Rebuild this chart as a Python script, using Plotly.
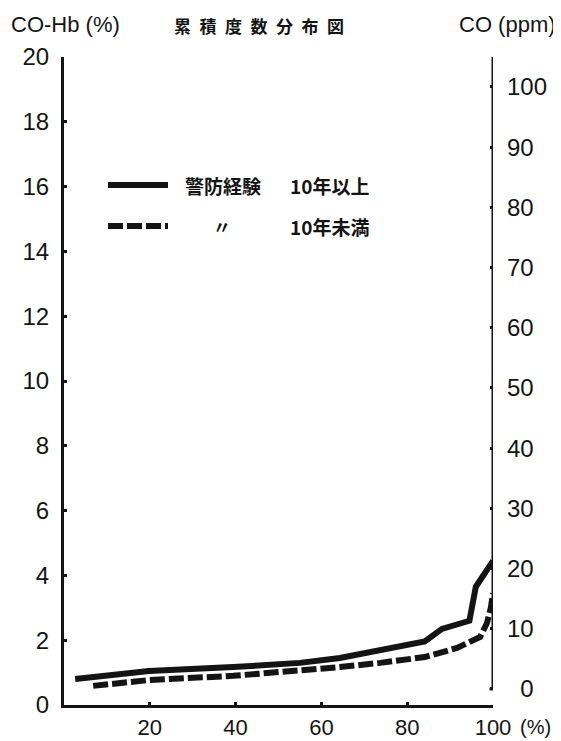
import plotly.graph_objects as go

# ---- data ----
cum_pct_10plus = [2.6, 19.8, 39.4, 55.0, 64.3, 73.7, 84.1, 88.1, 94.5, 96.0, 100.0]
cohb_10plus    = [0.80, 1.05, 1.17, 1.30, 1.45, 1.68, 1.96, 2.35, 2.60, 3.65, 4.45]

cum_pct_under10 = [6.8, 19.8, 39.4, 55.0, 64.3, 73.7, 84.1, 91.6, 97.0, 98.6, 99.5, 100.0]
cohb_under10    = [0.59, 0.77, 0.90, 1.05, 1.17, 1.30, 1.48, 1.76, 2.10, 2.53, 3.00, 3.45]

x_tickvals = [20, 40, 60, 80, 100]
x_ticktext = ["20", "40", "60", "80", "100"]
y_tickvals = [0, 2, 4, 6, 8, 10, 12, 14, 16, 18, 20]
y2_tickvals = [0, 10, 20, 30, 40, 50, 60, 70, 80, 90, 100]
y2_ticktext = ["\u20070", "10", "20", "30", "40", "50", "60", "70", "80", "90", "100"]

series_names = ["警防経験", "〃"]
series_groups = ["10年以上", "10年未満"]
title_text = "累積度数分布図"
left_title = "CO-Hb (%)"
right_title = "CO (ppm)"
x_unit = "(%)"

# ---- geometry (screen pixels; the page body has an 8px margin) ----
OFF = 8
SW, SH = 561, 741
PL, PR, PT, PB = 64, 493, 57, 705          # plot area on screen
W, H = SW - OFF, SH - OFF
ML, MR, MT, MB = PL - OFF, SW - PR, PT - OFF, SH - PB


def px(sx):
    return (sx - PL) / (PR - PL)


def py(sy):
    return (PB - sy) / (PB - PT)


INK = "#141414"
NUM_FONT = "Liberation Sans, Arial, sans-serif"
JP_FONT = "Noto Sans CJK JP, Noto Sans CJK SC, sans-serif"

fig = go.Figure()
fig.add_trace(go.Scatter(x=cum_pct_10plus, y=cohb_10plus, mode="lines",
                         line=dict(color=INK, width=6), showlegend=False,
                         hoverinfo="skip"))
fig.add_trace(go.Scatter(x=cum_pct_under10, y=cohb_under10, mode="lines",
                         line=dict(color=INK, width=6, dash="15px,4px"),
                         showlegend=False, hoverinfo="skip"))
# invisible trace to activate the right axis
fig.add_trace(go.Scatter(x=[None], y=[None], yaxis="y2", showlegend=False))

axis_common = dict(showgrid=False, zeroline=False, ticks="inside", ticklen=3,
                   tickwidth=3, tickcolor=INK, automargin=False)

fig.update_layout(
    template="none",
    width=W, height=H, autosize=False,
    margin=dict(l=ML, r=MR, t=MT, b=MB, pad=0),
    paper_bgcolor="white", plot_bgcolor="white",
    xaxis=dict(range=[0, 100], tickvals=x_tickvals, ticktext=x_ticktext,
               showline=True, linewidth=3, linecolor=INK,
               tickfont=dict(family=NUM_FONT, size=22, color=INK),
               ticklabelstandoff=1, **axis_common),
    yaxis=dict(range=[0, 20], tickvals=y_tickvals,
               showline=True, linewidth=3, linecolor=INK,
               tickfont=dict(family=NUM_FONT, size=24, color=INK),
               ticklabelstandoff=7, **axis_common),
    yaxis2=dict(range=[-2.66, 104.98], tickvals=y2_tickvals, ticktext=y2_ticktext,
                overlaying="y", side="right", showline=False,
                tickfont=dict(family=NUM_FONT, size=24, color=INK),
                ticklabelstandoff=13, **axis_common),
)

# right axis line (ends at the 0 ppm level)
fig.add_shape(type="line", xref="x", yref="y2", x0=100, x1=100, y0=0, y1=105.3,
              line=dict(color=INK, width=3))
fig.add_shape(type="line", xref="x", yref="y2", x0=99.2, x1=100, y0=0, y1=0,
              line=dict(color=INK, width=3))

ann = []
ann.append(dict(text=left_title, xref="paper", yref="paper", x=px(9), y=py(24),
                xanchor="left", yanchor="middle", showarrow=False,
                font=dict(family=NUM_FONT, size=22, color=INK)))
ann.append(dict(text=right_title, xref="paper", yref="paper", x=px(558), y=py(24),
                xanchor="right", yanchor="middle", showarrow=False,
                font=dict(family=NUM_FONT, size=22, color=INK)))
ann.append(dict(text="\u2002".join(title_text), xref="paper", yref="paper",
                x=px(259), y=py(25), xanchor="center", yanchor="middle",
                showarrow=False,
                font=dict(family=JP_FONT, size=17, color=INK, weight="bold")))
ann.append(dict(text=x_unit, xref="x", yref="paper", x=100, y=py(727),
                xanchor="left", yanchor="middle", xshift=25, showarrow=False,
                font=dict(family=NUM_FONT, size=20, color=INK)))

# legend drawn by hand
leg_rows = [(185, "solid"), (226, "15px,4px")]
for (yy, dash), nm, grp in zip(leg_rows, series_names, series_groups):
    fig.add_shape(type="line", xref="paper", yref="paper",
                  x0=px(108), x1=px(168), y0=py(yy), y1=py(yy),
                  line=dict(color=INK, width=6, dash=dash))
    if nm == "〃":
        ann.append(dict(text=nm, xref="paper", yref="paper", x=px(222), y=py(yy),
                        xanchor="center", yanchor="middle", showarrow=False,
                        font=dict(family=JP_FONT, size=18, color=INK, weight="bold")))
    else:
        ann.append(dict(text=nm, xref="paper", yref="paper", x=px(183), y=py(yy),
                        xanchor="left", yanchor="middle", showarrow=False,
                        font=dict(family=JP_FONT, size=19, color=INK, weight="bold")))
    ann.append(dict(text=grp, xref="paper", yref="paper", x=px(288), y=py(yy),
                    xanchor="left", yanchor="middle", showarrow=False,
                    font=dict(family=JP_FONT, size=19, color=INK, weight="bold")))

fig.update_layout(annotations=ann)
fig.write_html("out.html")
